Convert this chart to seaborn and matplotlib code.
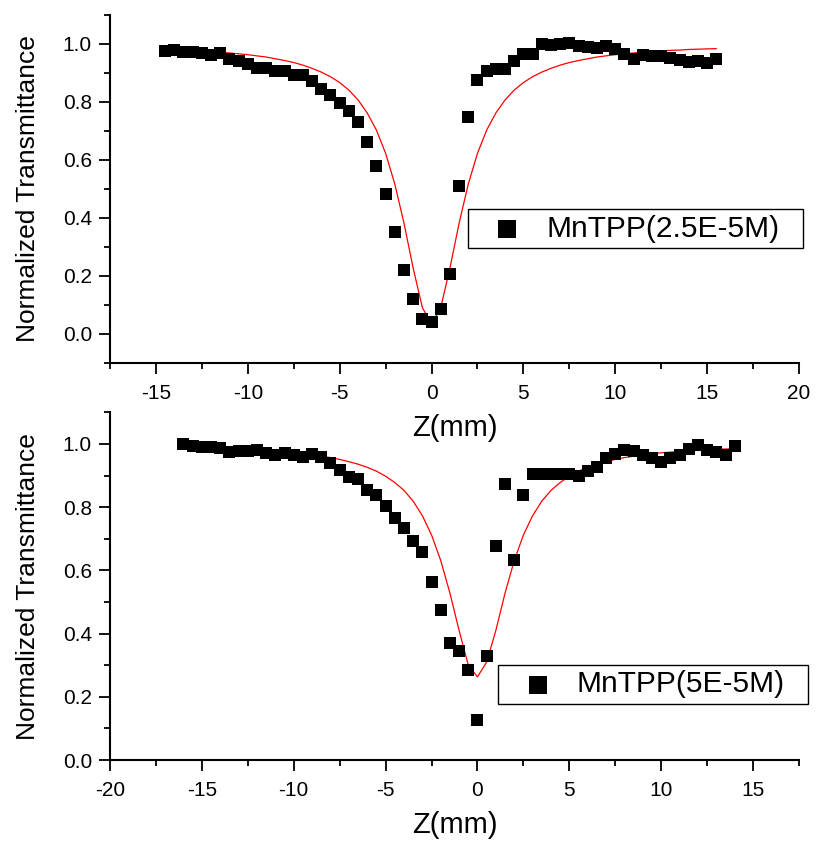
"""Open-aperture Z-scan of MnTPP at two concentrations, measured points plus fit."""
import matplotlib.pyplot as plt
from matplotlib.path import Path
from matplotlib.ticker import MultipleLocator, FormatStrFormatter
import seaborn as sns

# upper panel: MnTPP 2.5E-5 M
z_top = [-14.5, -14.0, -13.5, -13.0, -12.5, -12.0, -11.5, -11.0, -10.5, -10.0,
         -9.5, -9.0, -8.5, -8.0, -7.5, -7.0, -6.5, -6.0, -5.5, -5.0,
         -4.5, -4.0, -3.5, -3.0, -2.5, -2.0, -1.5, -1.0, -0.5, 0.0,
         0.5, 1.0, 1.5, 2.0, 2.5, 3.0, 3.5, 4.0, 4.5, 5.0,
         5.5, 6.0, 6.5, 7.0, 7.5, 8.0, 8.5, 9.0, 9.5, 10.0,
         10.5, 11.0, 11.5, 12.0, 12.5, 13.0, 13.5, 14.0, 14.5, 15.0, 15.5]
t_top = [0.977, 0.980, 0.971, 0.972, 0.969, 0.961, 0.969, 0.948, 0.940, 0.932,
         0.917, 0.917, 0.908, 0.908, 0.894, 0.894, 0.873, 0.845, 0.823, 0.797,
         0.770, 0.731, 0.661, 0.580, 0.483, 0.352, 0.222, 0.120, 0.053, 0.041,
         0.086, 0.207, 0.511, 0.747, 0.875, 0.906, 0.915, 0.915, 0.942, 0.965,
         0.967, 1.000, 0.997, 1.000, 1.005, 0.994, 0.990, 0.986, 0.994, 0.983,
         0.967, 0.949, 0.963, 0.957, 0.960, 0.952, 0.944, 0.938, 0.940, 0.934, 0.949]
fit_top = [0.982, 0.981, 0.979, 0.978, 0.976, 0.974, 0.972, 0.969, 0.966, 0.963,
           0.959, 0.955, 0.949, 0.943, 0.936, 0.927, 0.916, 0.903, 0.887, 0.867,
           0.841, 0.807, 0.762, 0.703, 0.623, 0.517, 0.382, 0.227, 0.091, 0.034,
           0.091, 0.227, 0.382, 0.517, 0.623, 0.703, 0.762, 0.807, 0.841, 0.867,
           0.887, 0.903, 0.916, 0.927, 0.936, 0.943, 0.949, 0.955, 0.959, 0.963,
           0.966, 0.969, 0.972, 0.974, 0.976, 0.978, 0.979, 0.981, 0.982, 0.983, 0.984]
label_top = 'MnTPP(2.5E-5M)'

# lower panel: MnTPP 5E-5 M
z_bottom = [-16.0, -15.5, -15.0, -14.5, -14.0, -13.5, -13.0, -12.5, -12.0, -11.5,
            -11.0, -10.5, -10.0, -9.5, -9.0, -8.5, -8.0, -7.5, -7.0, -6.5,
            -6.0, -5.5, -5.0, -4.5, -4.0, -3.5, -3.0, -2.5, -2.0, -1.5,
            -1.0, -0.5, 0.0, 0.5, 1.0, 1.5, 2.0, 2.5, 3.0, 3.5,
            4.0, 4.5, 5.0, 5.5, 6.0, 6.5, 7.0, 7.5, 8.0, 8.5,
            9.0, 9.5, 10.0, 10.5, 11.0, 11.5, 12.0, 12.5, 13.0, 13.5, 14.0]
t_bottom = [0.999, 0.994, 0.991, 0.989, 0.988, 0.976, 0.979, 0.978, 0.980, 0.971,
            0.965, 0.972, 0.965, 0.958, 0.967, 0.958, 0.941, 0.918, 0.897, 0.889,
            0.855, 0.839, 0.804, 0.766, 0.734, 0.692, 0.658, 0.564, 0.474, 0.371,
            0.345, 0.284, 0.127, 0.329, 0.678, 0.873, 0.634, 0.837, 0.905, 0.905,
            0.905, 0.905, 0.905, 0.900, 0.913, 0.926, 0.955, 0.968, 0.980, 0.979,
            0.966, 0.956, 0.944, 0.955, 0.966, 0.984, 0.996, 0.982, 0.975, 0.966, 0.994]
fit_bottom = [0.989, 0.988, 0.987, 0.986, 0.985, 0.984, 0.983, 0.982, 0.980, 0.978,
              0.976, 0.974, 0.972, 0.969, 0.965, 0.961, 0.957, 0.951, 0.944, 0.936,
              0.926, 0.914, 0.898, 0.878, 0.853, 0.819, 0.773, 0.712, 0.631, 0.528,
              0.410, 0.300, 0.263, 0.310, 0.410, 0.528, 0.631, 0.712, 0.773, 0.819,
              0.853, 0.878, 0.898, 0.914, 0.926, 0.936, 0.944, 0.951, 0.957, 0.961,
              0.965, 0.969, 0.972, 0.974, 0.976, 0.978, 0.980, 0.982, 0.983, 0.984, 0.985]
label_bottom = 'MnTPP(5E-5M)'

black = {'axes.edgecolor': 'black', 'text.color': 'black', 'axes.labelcolor': 'black',
         'xtick.color': 'black', 'ytick.color': 'black'}
sns.set_style('ticks', black)
plt.rcParams['font.family'] = ['Liberation Sans', 'DejaVu Sans']
plt.rcParams['axes.unicode_minus'] = False


def wide_box(x0, y0, width, height, mutation_size):
    # legend frame with extra room on the right, like the original
    x1 = x0 + width + 0.6 * mutation_size
    y1 = y0 + height
    return Path([(x0, y0), (x1, y0), (x1, y1), (x0, y1), (x0, y0)], closed=True)


def panel(ax, z, t, fit, label, xlim, ylim, anchor):
    ax.set_facecolor('none')  # keep the upper x label visible
    sns.lineplot(x=z, y=fit, ax=ax, color='red', linewidth=0.9, sort=False, legend=False)
    sns.scatterplot(x=z, y=t, ax=ax, color='black', marker='s', s=78,
                    linewidth=0, label=label, zorder=3)
    ax.set_xlim(*xlim)
    ax.set_ylim(*ylim)
    ax.xaxis.set_major_locator(MultipleLocator(5))
    ax.xaxis.set_minor_locator(MultipleLocator(2.5))
    ax.yaxis.set_major_locator(MultipleLocator(0.2))
    ax.yaxis.set_minor_locator(MultipleLocator(0.1))
    ax.yaxis.set_major_formatter(FormatStrFormatter('%.1f'))
    ax.tick_params(which='major', direction='out', length=8, width=1.3, labelsize=15)
    ax.tick_params(axis='x', which='major', pad=7)
    ax.tick_params(axis='y', which='major', pad=5)
    ax.tick_params(which='minor', direction='out', length=4.5, width=1.3)
    sns.despine(ax=ax)
    for side in ('left', 'bottom'):
        ax.spines[side].set_linewidth(1.5)
    ax.set_xlabel('Z(mm)', fontsize=21, labelpad=8)
    ax.set_ylabel('Normalized Transmittance', fontsize=19, labelpad=16)

    leg = ax.legend(loc='upper left', bbox_to_anchor=anchor, borderaxespad=0,
                    fontsize=21.5, frameon=True, fancybox=False, edgecolor='black',
                    framealpha=1, borderpad=0.18, handlelength=2.3,
                    handletextpad=0.15, markerscale=1.4)
    leg.get_frame().set_linewidth(1.0)
    leg.get_frame().set_boxstyle(wide_box)


fig = plt.figure(figsize=(8.16, 8.41), dpi=100)
ax_top = fig.add_axes([0.1348, 0.5684, 0.8444, 0.4138])
ax_bottom = fig.add_axes([0.1348, 0.0963, 0.8444, 0.4134])

panel(ax_top, z_top, t_top, fit_top, label_top, (-17.5, 20), (-0.1, 1.1), (0.519, 0.442))
panel(ax_bottom, z_bottom, t_bottom, fit_bottom, label_bottom, (-20, 17.5), (0.0, 1.1),
      (0.5636, 0.273))

fig.savefig('out.png', dpi=100)
